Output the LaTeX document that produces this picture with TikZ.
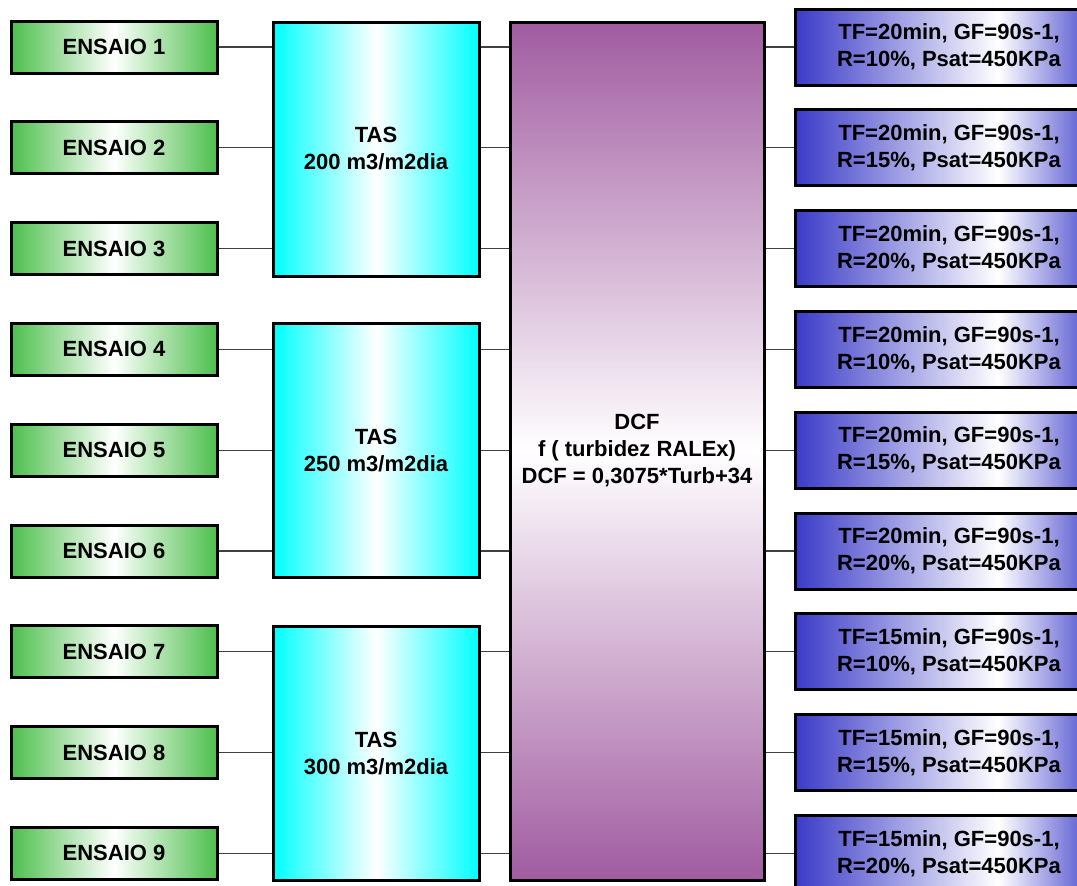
\documentclass[tikz,border=0pt]{standalone}
\usepackage{fontspec}
\setmainfont{Liberation Sans}
\definecolor{gr}{HTML}{4CBF4C}
\definecolor{cy}{HTML}{00FFFF}
\definecolor{pu}{HTML}{A05CA0}
\definecolor{bl}{HTML}{3A3AC8}
\pgfdeclarehorizontalshading{blsh}{100bp}{color(0bp)=(bl); color(25bp)=(bl); color(58bp)=(white); color(75bp)=(bl); color(100bp)=(bl)}
\begin{document}
\begin{tikzpicture}[x=1pt,y=-1pt,
  box/.style={draw=black, line width=3pt, inner sep=0pt, align=center,
    font=\fontsize{22}{27}\selectfont\bfseries},
  ensaio/.style={box, minimum width=206pt, minimum height=52pt,
    left color=gr, right color=gr, middle color=white},
  tas/.style={box, minimum width=206pt, minimum height=254pt,
    left color=cy, right color=cy, middle color=white},
  dcf/.style={box, minimum width=254pt, minimum height=858pt,
    top color=pu, bottom color=pu, middle color=white},
  cond/.style={box, minimum width=308pt, minimum height=76pt,
    shading=blsh},
  link/.style={draw=black!75, line width=1.2pt}]
\path[use as bounding box, clip] (0,0) rectangle (1077,886);
\fill[white] (0,0) rectangle (1077,886);
% ensaio boxes
\foreach \i/\y in {1/47,2/147.8,3/248.6,4/349.4,5/450.2,6/551,7/651.8,8/752.6,9/853.4}{
  \node[ensaio] (e\i) at (114,\y) {ENSAIO \i};
}
% TAS boxes
\node[tas] (t1) at (376,149) {TAS\\200 m3/m2dia};
\node[tas] (t2) at (376,450.5) {TAS\\250 m3/m2dia};
\node[tas] (t3) at (376,753.5) {TAS\\300 m3/m2dia};
% DCF
\node[dcf] (d) at (637,451) {DCF\\f ( turbidez RALEx)\\DCF = 0,3075*Turb+34};
% condition boxes
\foreach \i/\y/\tf/\r in {1/47/20/10,2/147.8/20/15,3/248.6/20/20,4/349.4/20/10,5/450.2/20/15,6/551/20/20,7/651.8/15/10,8/752.6/15/15,9/853.4/15/20}{
  \node[cond] (c\i) at (949,\y) {TF=\tf min, GF=90s-1,\\R=\r\%, Psat=450KPa};
}
% connectors
\foreach \i/\t in {1/t1,2/t1,3/t1,4/t2,5/t2,6/t2,7/t3,8/t3,9/t3}{
  \draw[link] (e\i.east) -- (e\i.east -| \t.west);
  \draw[link] (\t.east |- e\i.east) -- (d.west |- e\i.east);
  \draw[link] (d.east |- c\i.west) -- (c\i.west);
}
\end{tikzpicture}
\end{document}
